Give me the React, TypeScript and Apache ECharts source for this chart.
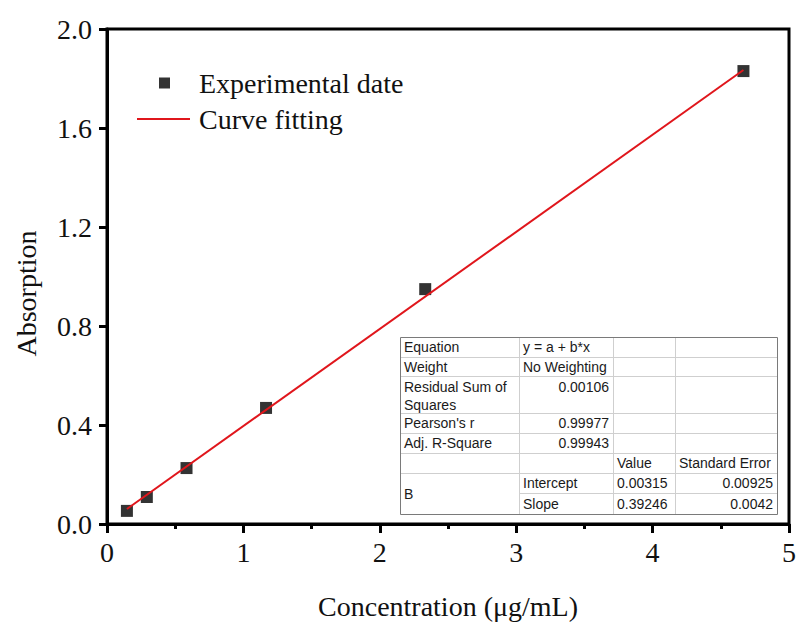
import React, { useEffect, useRef } from "react";
import * as echarts from "echarts";

const concentrations = [0.146, 0.292, 0.583, 1.166, 2.333, 4.666];
const absorptions = [0.053, 0.109, 0.226, 0.469, 0.949, 1.83];
const fitLine: [number, number][] = [
  [0.146, 0.0605],
  [4.666, 1.8344],
];
const yTicks = { min: 0, max: 2, interval: 0.4 };
const xTicks = { min: 0, max: 5, interval: 1 };

// Fit-results table contents
const tableCells: { r: number; c: number; text: string; align: "left" | "right"; span?: number; top?: boolean }[] = [
  { r: 0, c: 0, text: "Equation", align: "left" },
  { r: 0, c: 1, text: "y = a + b*x", align: "left" },
  { r: 1, c: 0, text: "Weight", align: "left" },
  { r: 1, c: 1, text: "No Weighting", align: "left" },
  { r: 2, c: 0, text: "Residual Sum of\nSquares", align: "left", top: true },
  { r: 2, c: 1, text: "0.00106", align: "right", top: true },
  { r: 3, c: 0, text: "Pearson's r", align: "left" },
  { r: 3, c: 1, text: "0.99977", align: "right" },
  { r: 4, c: 0, text: "Adj. R-Square", align: "left" },
  { r: 4, c: 1, text: "0.99943", align: "right" },
  { r: 5, c: 2, text: "Value", align: "left" },
  { r: 5, c: 3, text: "Standard Error", align: "left" },
  { r: 6, c: 0, text: "B", align: "left", span: 2 },
  { r: 6, c: 1, text: "Intercept", align: "left" },
  { r: 6, c: 2, text: "0.00315", align: "left" },
  { r: 6, c: 3, text: "0.00925", align: "right" },
  { r: 7, c: 1, text: "Slope", align: "left" },
  { r: 7, c: 2, text: "0.39246", align: "left" },
  { r: 7, c: 3, text: "0.0042", align: "right" },
];

const SERIF = "'Liberation Serif', 'Times New Roman', serif";
const SANS = "'Liberation Sans', Arial, sans-serif";

function buildTable() {
  const colX = [400, 519, 613, 675, 777];
  const rowY = [337, 357, 376, 413, 433, 453, 473, 493, 514];
  const children: any[] = [];
  children.push({
    type: "rect",
    shape: { x: colX[0], y: rowY[0], width: colX[4] - colX[0], height: rowY[8] - rowY[0] },
    style: { fill: "#fff", stroke: "none" },
  });
  for (let i = 1; i < rowY.length - 1; i++) {
    const x1 = i === 7 ? colX[1] : colX[0];
    children.push({
      type: "line",
      shape: { x1, y1: rowY[i] + 0.5, x2: colX[4], y2: rowY[i] + 0.5 },
      style: { stroke: "#cfcfcf", lineWidth: 1 },
    });
  }
  for (let j = 1; j < colX.length - 1; j++) {
    children.push({
      type: "line",
      shape: { x1: colX[j] + 0.5, y1: rowY[0], x2: colX[j] + 0.5, y2: rowY[8] },
      style: { stroke: "#cfcfcf", lineWidth: 1 },
    });
  }
  children.push({
    type: "rect",
    shape: { x: colX[0] + 0.5, y: rowY[0] + 0.5, width: colX[4] - colX[0], height: rowY[8] - rowY[0] },
    style: { fill: "none", stroke: "#7a7a7a", lineWidth: 1 },
  });
  tableCells.forEach((cell) => {
    const span = cell.span || 1;
    const y0 = rowY[cell.r];
    const y1 = rowY[cell.r + span];
    const x = cell.align === "left" ? colX[cell.c] + 4 : colX[cell.c + 1] - 4;
    const y = cell.top ? y0 + 2 : (y0 + y1) / 2;
    children.push({
      type: "text",
      x,
      y,
      style: {
        text: cell.text,
        font: `14px ${SANS}`,
        fill: "#1a1a1a",
        align: cell.align,
        verticalAlign: cell.top ? "top" : "middle",
        lineHeight: 18,
      },
    });
  });
  return children;
}

export default function App() {
  const ref = useRef<HTMLDivElement>(null);
  useEffect(() => {
    document.body.style.margin = "0";
    if (!ref.current) return;
    const chart = echarts.init(ref.current, undefined, { renderer: "svg" });
    const option: any = {
      animation: false,
      backgroundColor: "#fff",
      grid: {
        left: 107,
        right: 8,
        top: 29,
        bottom: 102,
        outerBoundsMode: "none",
        containLabel: false,
        show: true,
        borderColor: "#000",
        borderWidth: 3,
      },
      legend: [
        {
          data: [{ name: "Experimental date", icon: "rect" }],
          left: 154,
          top: 64,
          itemWidth: 11,
          itemHeight: 11,
          textStyle: { fontFamily: SERIF, fontSize: 28, color: "#111", padding: [0, 0, 0, 24] },
        },
        {
          data: [{ name: "Curve fitting", icon: "path://M0,0H53V2H0Z" }],
          left: 132,
          top: 100,
          itemWidth: 53,
          itemHeight: 2,
          textStyle: { fontFamily: SERIF, fontSize: 28, color: "#111", padding: [0, 0, 0, 4] },
        },
      ],
      xAxis: {
        type: "value",
        min: xTicks.min,
        max: xTicks.max,
        interval: xTicks.interval,
        name: "Concentration (μg/mL)",
        nameLocation: "middle",
        nameGap: 68,
        nameTextStyle: { fontFamily: SERIF, fontSize: 28, color: "#111" },
        axisLine: { lineStyle: { color: "#000", width: 3 } },
        axisTick: { show: true, inside: false, length: 9, lineStyle: { color: "#000", width: 3 } },
        minorTick: { show: true, splitNumber: 2, length: 5, lineStyle: { color: "#000", width: 3 } },
        axisLabel: { fontFamily: SERIF, fontSize: 28, color: "#111", margin: 14 },
        splitLine: { show: false },
      },
      yAxis: {
        type: "value",
        min: yTicks.min,
        max: yTicks.max,
        interval: yTicks.interval,
        name: "Absorption",
        nameLocation: "middle",
        nameGap: 67,
        nameTextStyle: { fontFamily: SERIF, fontSize: 28, color: "#111", padding: [0, 34, 0, 0] },
        axisLine: { lineStyle: { color: "#000", width: 3 } },
        axisTick: { show: true, inside: false, length: 8, lineStyle: { color: "#000", width: 3 } },
        axisLabel: {
          fontFamily: SERIF,
          fontSize: 28,
          color: "#111",
          margin: 15,
          formatter: (v: number) => v.toFixed(1),
        },
        splitLine: { show: false },
      },
      series: [
        {
          name: "Curve fitting",
          type: "line",
          data: fitLine,
          showSymbol: false,
          symbol: "none",
          lineStyle: { color: "#e0161c", width: 2 },
          itemStyle: { color: "#e0161c" },
          z: 2,
        },
        {
          name: "Experimental date",
          type: "scatter",
          data: concentrations.map((c, i) => [c, absorptions[i]]),
          symbol: "rect",
          symbolSize: 12,
          itemStyle: { color: "#000" },
          z: 1,
        },
      ],
      graphic: [{ type: "group", children: buildTable() }],
    };
    chart.setOption(option);
    return () => chart.dispose();
  }, []);
  return <div ref={ref} style={{ width: 797, height: 626 }} />;
}
